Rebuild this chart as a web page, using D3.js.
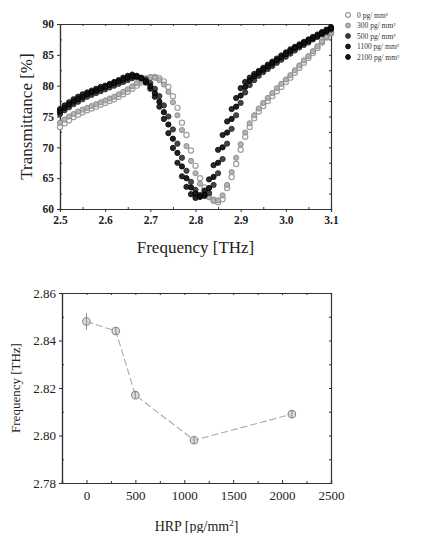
<!DOCTYPE html>
<html><head><meta charset="utf-8">
<script src="https://cdn.jsdelivr.net/npm/d3@7"></script>
<style>
body{margin:0;background:#fff;}
svg{display:block;}
svg text{font-family:"Liberation Serif","DejaVu Serif","Times New Roman",serif !important;}
</style></head>
<body><svg id="c" width="424" height="533"></svg>
<script>
// ---------- Top chart data ----------
const frequency = [2.50,2.51,2.52,2.53,2.54,2.55,2.56,2.57,2.58,2.59,2.60,2.61,2.62,2.63,2.64,2.65,2.66,2.67,2.68,2.69,2.70,2.71,2.72,2.73,2.74,2.75,2.76,2.77,2.78,2.79,2.80,2.81,2.82,2.83,2.84,2.85,2.86,2.87,2.88,2.89,2.90,2.91,2.92,2.93,2.94,2.95,2.96,2.97,2.98,2.99,3.00,3.01,3.02,3.03,3.04,3.05,3.06,3.07,3.08,3.09,3.10];
const seriesNames = ["0 pg/ mm²","300 pg/ mm²","500 pg/ mm²","1100 pg/ mm²","2100 pg/ mm²"];
const t0 = [73.3,73.9,74.4,74.9,75.3,75.7,76.0,76.3,76.6,76.9,77.2,77.5,77.8,78.2,78.6,79.0,79.5,80.0,80.5,81.0,81.3,81.4,81.2,80.7,79.8,78.3,76.4,74.0,72.0,69.5,67.0,65.0,63.5,62.3,61.5,61.1,61.6,63.4,65.2,67.3,69.6,71.7,73.3,74.7,75.8,76.7,77.5,78.3,79.1,79.8,80.6,81.3,82.1,82.9,83.7,84.5,85.3,86.1,87.0,87.8,88.5];
const t300 = [74.0,74.5,75.0,75.4,75.8,76.1,76.4,76.7,77.0,77.3,77.6,77.9,78.2,78.6,79.0,79.4,79.9,80.4,80.8,81.2,81.4,81.3,80.9,80.2,79.0,77.3,75.2,72.8,70.2,67.8,65.8,64.1,62.8,61.9,61.3,61.4,62.2,63.9,66.0,68.3,70.5,72.4,73.9,75.2,76.3,77.2,78.0,78.8,79.6,80.3,81.0,81.7,82.5,83.3,84.1,84.8,85.6,86.4,87.2,87.9,88.6];
const t500 = [75.4,76.0,76.5,77.0,77.4,77.8,78.2,78.5,78.8,79.1,79.4,79.7,80.0,80.3,80.6,80.9,81.2,81.4,81.3,81.0,80.4,79.5,78.3,76.8,75.0,72.9,70.6,68.3,66.2,64.4,63.1,62.3,62.1,62.6,63.9,65.8,68.1,70.6,73.0,75.2,77.2,78.9,80.1,80.9,81.6,82.2,82.7,83.2,83.7,84.2,84.7,85.2,85.7,86.2,86.6,87.0,87.5,87.9,88.3,88.7,89.1];
const t1100 = [76.2,76.8,77.3,77.8,78.2,78.6,78.9,79.2,79.5,79.8,80.0,80.3,80.6,80.9,81.3,81.6,81.8,81.6,81.2,80.5,79.5,78.2,76.6,74.6,72.3,69.9,67.5,65.3,63.6,62.4,61.8,62.0,63.0,64.8,67.1,69.6,72.0,74.2,76.2,78.0,79.6,80.6,81.3,81.9,82.4,82.9,83.4,83.9,84.4,84.9,85.4,85.9,86.3,86.7,87.1,87.5,87.9,88.3,88.7,89.1,89.5];
const t2100 = [75.8,76.4,76.9,77.4,77.8,78.2,78.6,78.9,79.2,79.5,79.8,80.1,80.4,80.7,81.0,81.3,81.5,81.5,81.2,80.7,79.9,78.8,77.4,75.7,73.7,71.4,69.1,66.9,65.0,63.5,62.5,62.0,62.3,63.4,65.2,67.5,70.0,72.4,74.6,76.6,78.4,79.8,80.8,81.5,82.1,82.6,83.1,83.6,84.1,84.6,85.1,85.6,86.1,86.5,86.9,87.3,87.7,88.1,88.5,88.9,89.3];
const topXTicks = [2.5,2.6,2.7,2.8,2.9,3.0,3.1];
const topYTicks = [60,65,70,75,80,85,90];

// ---------- Bottom chart data ----------
const hrp = [0,300,500,1100,2100];
const resFreq = [2.848,2.844,2.817,2.798,2.809];
const resErr = [0.0035,0.0015,0.0015,0.0015,0.0015];
const botXTicks = [0,500,1000,1500,2000,2500];
const botYTicks = [2.78,2.80,2.82,2.84,2.86];

const svg = d3.select("#c");
const axisColor = "#333";
const FF = "'Liberation Serif','DejaVu Serif',serif";

// ===== Top chart =====
const T = {l:60, r:331, t:24, b:209};
const x1 = d3.scaleLinear().domain([2.5,3.1]).range([T.l,T.r]);
const y1 = d3.scaleLinear().domain([60,90]).range([T.b,T.t]);
const g1 = svg.append("g");

const ax1b = g1.append("g").attr("transform",`translate(0,${T.b})`)
  .call(d3.axisBottom(x1).tickValues(topXTicks).tickFormat(d3.format(".1f")).tickSize(3).tickPadding(4));
const ax1l = g1.append("g").attr("transform",`translate(${T.l},0)`)
  .call(d3.axisLeft(y1).tickValues(topYTicks).tickSize(3).tickPadding(3));
const ax1t = g1.append("g").attr("transform",`translate(0,${T.t})`)
  .call(d3.axisTop(x1).tickValues(d3.range(2.5,3.1001,0.05)).tickSize(-2).tickFormat(""));
const ax1r = g1.append("g").attr("transform",`translate(${T.r},0)`)
  .call(d3.axisRight(y1).tickValues(d3.range(60,90.01,2.5)).tickSize(-2).tickFormat(""));
const ax1bm = g1.append("g").attr("transform",`translate(0,${T.b})`)
  .call(d3.axisBottom(x1).tickValues(d3.range(2.55,3.1,0.1)).tickSize(-2).tickFormat(""));
const ax1lm = g1.append("g").attr("transform",`translate(${T.l},0)`)
  .call(d3.axisLeft(y1).tickValues(d3.range(62.5,90,5)).tickSize(-2).tickFormat(""));
[ax1b,ax1l,ax1t,ax1r,ax1bm,ax1lm].forEach(a=>{
  a.attr("font-family",FF);
  a.selectAll(".domain").attr("stroke",axisColor).attr("stroke-width",1.2);
  a.selectAll("line").attr("stroke",axisColor);
  a.selectAll("text").attr("font-size",11.5).attr("fill","#222").attr("font-weight","bold");
});

const styles = [
  {fill:"#fff", stroke:"#9a9a9a", sw:1.2},
  {fill:"#b0b0b0", stroke:"#8a8a8a", sw:1},
  {fill:"#3a3a3a", stroke:"#2a2a2a", sw:1},
  {fill:"#1c1c1c", stroke:"#111", sw:1},
  {fill:"#111", stroke:"#000", sw:1}
];
const allSeries = [t0,t300,t500,t1100,t2100];
const r = 2.6;
allSeries.forEach((vals,i)=>{
  const pts = frequency.map((f,k)=>({f, v:vals[k]}));
  g1.append("g").selectAll("circle").data(pts).join("circle")
    .attr("cx",d=>x1(d.f)).attr("cy",d=>y1(d.v)).attr("r",r)
    .attr("fill",styles[i].fill).attr("stroke",styles[i].stroke).attr("stroke-width",styles[i].sw)
    .attr("opacity",0.95);
});

g1.append("text").attr("x",(T.l+T.r)/2).attr("y",253).attr("text-anchor","middle")
  .attr("font-family",FF).attr("font-size",17).attr("fill","#222").text("Frequency [THz]");
g1.append("text").attr("transform",`translate(32,${(T.t+T.b)/2}) rotate(-90)`).attr("text-anchor","middle")
  .attr("font-family",FF).attr("font-size",17).attr("fill","#222").text("Transmittance [%]");

const leg = g1.append("g");
seriesNames.forEach((n,i)=>{
  const yy = 15 + i*10.5;
  leg.append("circle").attr("cx",348).attr("cy",yy).attr("r",2.4)
    .attr("fill",styles[i].fill).attr("stroke",styles[i].stroke).attr("stroke-width",styles[i].sw);
  leg.append("text").attr("x",357).attr("y",yy+2.5).attr("font-family",FF).attr("font-size",7.5).attr("fill","#333").text(n);
});

// ===== Bottom chart =====
const B = {l:62, r:331, t:293, b:483};
const x2 = d3.scaleLinear().domain([-250,2500]).range([B.l,B.r]);
const y2 = d3.scaleLinear().domain([2.78,2.86]).range([B.b,B.t]);
const g2 = svg.append("g");
const ax2b = g2.append("g").attr("transform",`translate(0,${B.b})`)
  .call(d3.axisBottom(x2).tickValues(botXTicks).tickFormat(d3.format("d")).tickSize(-3).tickPadding(8));
const ax2l = g2.append("g").attr("transform",`translate(${B.l},0)`)
  .call(d3.axisLeft(y2).tickValues(botYTicks).tickFormat(d3.format(".2f")).tickSize(3).tickPadding(3));
const ax2t = g2.append("g").attr("transform",`translate(0,${B.t})`)
  .call(d3.axisTop(x2).tickValues(d3.range(0,2501,250)).tickSize(-2).tickFormat(""));
const ax2bm = g2.append("g").attr("transform",`translate(0,${B.b})`)
  .call(d3.axisBottom(x2).tickValues(d3.range(250,2500,500)).tickSize(-2).tickFormat(""));
const ax2r = g2.append("g").attr("transform",`translate(${B.r},0)`)
  .call(d3.axisRight(y2).tickValues(d3.range(2.78,2.8601,0.01)).tickSize(-2).tickFormat(""));
const ax2lm = g2.append("g").attr("transform",`translate(${B.l},0)`)
  .call(d3.axisLeft(y2).tickValues([2.79,2.81,2.83,2.85]).tickSize(-2).tickFormat(""));
[ax2b,ax2l,ax2t,ax2bm,ax2r,ax2lm].forEach(a=>{
  a.attr("font-family",FF);
  a.selectAll(".domain").attr("stroke",axisColor).attr("stroke-width",1.2);
  a.selectAll("line").attr("stroke",axisColor);
  a.selectAll("text").attr("font-size",13).attr("fill","#222");
});

const pts2 = hrp.map((h,i)=>({h, v:resFreq[i], e:resErr[i]}));
g2.append("path").datum(pts2)
  .attr("d", d3.line().x(d=>x2(d.h)).y(d=>y2(d.v)))
  .attr("fill","none").attr("stroke","#aaa").attr("stroke-width",1.1).attr("stroke-dasharray","7,3");
g2.append("g").selectAll("line").data(pts2).join("line")
  .attr("x1",d=>x2(d.h)).attr("x2",d=>x2(d.h))
  .attr("y1",d=>y2(d.v+d.e)).attr("y2",d=>y2(d.v-d.e))
  .attr("stroke","#888").attr("stroke-width",1);
g2.append("g").selectAll("circle").data(pts2).join("circle")
  .attr("cx",d=>x2(d.h)).attr("cy",d=>y2(d.v)).attr("r",3.8)
  .attr("fill","#cfcfcf").attr("fill-opacity",0.7).attr("stroke","#888").attr("stroke-width",1.1);
g2.append("g").selectAll("line").data(pts2).join("line")
  .attr("x1",d=>x2(d.h)).attr("x2",d=>x2(d.h))
  .attr("y1",d=>y2(d.v)-3.8).attr("y2",d=>y2(d.v)+3.8)
  .attr("stroke","#888").attr("stroke-width",0.8);

g2.append("text").attr("x",(B.l+B.r)/2).attr("y",531).attr("text-anchor","middle")
  .attr("font-family",FF).attr("font-size",14).attr("fill","#222")
  .html("HRP [pg/mm<tspan dy='-5' font-size='9'>2</tspan><tspan dy='5'>]</tspan>");
g2.append("text").attr("transform",`translate(20,${(B.t+B.b)/2}) rotate(-90)`).attr("text-anchor","middle")
  .attr("font-family",FF).attr("font-size",13).attr("fill","#222").text("Frequency [THz]");
</script></body></html>
